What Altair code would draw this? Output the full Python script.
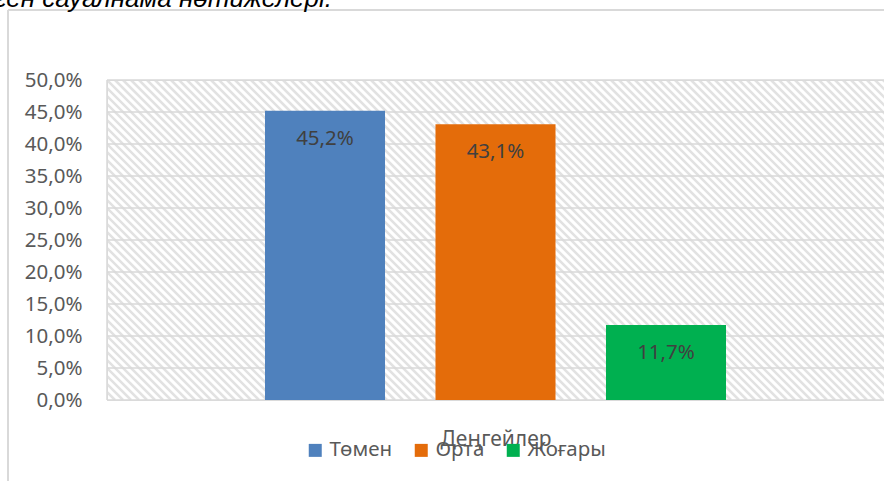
import altair as alt
import pandas as pd

# ---- data ----
levels = ["Төмен", "Орта", "Жоғары"]
values = [45.2, 43.1, 11.7]
colors = ["#4f81bd", "#e46c0a", "#00b050"]
category_title = "Деңгейлер"
y_ticks = [0, 5, 10, 15, 20, 25, 30, 35, 40, 45, 50]
title_text = "Эксперимент алдында жүргізілген сауалнама нәтижелері."

W, H = 777, 320
PAD_L, PAD_T = 107, 80

df = pd.DataFrame({"level": levels, "value": values})
df["label"] = [f"{v:.1f}".replace(".", ",") + "%" for v in values]

FONT = "Noto Sans"

# ---- hatched plot background ----
hatch = (
    alt.Chart(alt.sequence(-H, W + 8, 8, as_="k"))
    .transform_calculate(k2=f"datum.k + {H}", top=f"{H}", bot="0")
    .mark_rule(clip=True, stroke="#e2e2e2", strokeWidth=2.6)
    .encode(
        x=alt.X("k:Q", scale=alt.Scale(domain=[0, W], nice=False, zero=False), axis=None),
        x2="k2:Q",
        y=alt.Y("top:Q", scale=alt.Scale(domain=[0, H], nice=False, zero=False), axis=None),
        y2="bot:Q",
    )
)

# ---- gridlines ----
grid = (
    alt.Chart(pd.DataFrame({"t": y_ticks}))
    .mark_rule(stroke="#d9d9d9", strokeWidth=1.5)
    .encode(y=alt.Y("t:Q", scale=alt.Scale(domain=[0, 50], nice=False), axis=None))
)

# ---- bars + labels ----
x_enc = alt.X(
    "level:N",
    sort=levels,
    scale=alt.Scale(domain=levels, paddingInner=0.296, paddingOuter=0.9266),
    axis=alt.Axis(
        title=category_title, labels=False, ticks=False, domain=False, grid=False,
        titleFont=FONT, titleFontSize=21, titleFontWeight="normal", titleColor="#595959",
        titleY=45, titleBaseline="alphabetic",
    ),
)
y_enc = alt.Y(
    "value:Q",
    scale=alt.Scale(domain=[0, 50], nice=False),
    axis=alt.Axis(
        values=y_ticks, grid=False, ticks=False, domain=False, title=None,
        labelExpr="replace(format(datum.value, '.1f'), '.', ',') + '%'",
        labelFont=FONT, labelFontSize=20.5, labelColor="#595959", labelPadding=25,
        labelOverlap=False,
    ),
)
bars = alt.Chart(df).mark_bar().encode(
    x=x_enc,
    y=y_enc,
    color=alt.Color(
        "level:N", sort=levels,
        scale=alt.Scale(domain=levels, range=colors),
        legend=alt.Legend(
            orient="none", legendX=198, legendY=360, direction="horizontal", title=None,
            symbolType="square", symbolSize=169, symbolStrokeWidth=0,
            labelFont=FONT, labelFontSize=20.5, labelColor="#595959",
            columnPadding=18, labelOffset=4, padding=0,
        ),
    ),
)
labels = alt.Chart(df).mark_text(
    dy=28, baseline="middle", font=FONT, fontSize=20.5, color="#404040"
).encode(x=x_enc, y=y_enc, text="label:N")

data_layer = alt.layer(bars, labels)

# ---- chart-area border, plot left edge, cut-off title ----
one = pd.DataFrame({"t": [title_text]})
border_top = alt.Chart(one).mark_rule(stroke="#d9d9d9", strokeWidth=2).encode(
    x=alt.value(-PAD_L + 8), x2=alt.value(W), y=alt.value(-PAD_T + 10)
)
border_left = alt.Chart(one).mark_rule(stroke="#d9d9d9", strokeWidth=2).encode(
    x=alt.value(-PAD_L + 8), y=alt.value(-PAD_T + 10), y2=alt.value(H + 81)
)
plot_left = alt.Chart(one).mark_rule(stroke="#d9d9d9", strokeWidth=1.5).encode(
    x=alt.value(0), y=alt.value(0), y2=alt.value(H)
)
title = alt.Chart(one).mark_text(
    align="right", baseline="alphabetic", font="Liberation Sans", fontStyle="italic",
    fontSize=26, color="#000000"
).encode(x=alt.value(332 - PAD_L), y=alt.value(7 - PAD_T), text="t:N")

chart = (
    alt.layer(hatch, grid, plot_left, data_layer, border_top, border_left, title)
    .resolve_scale(x="independent", y="independent")
    .properties(
        width=W, height=H,
        autosize=alt.AutoSizeParams(type="none"),
        padding={"left": PAD_L, "top": PAD_T, "right": 0, "bottom": 481 - PAD_T - H},
    )
    .configure_view(stroke=None)
    .configure(background="white")
)

chart.save("out.html", embed_options={"renderer": "svg", "actions": False})
